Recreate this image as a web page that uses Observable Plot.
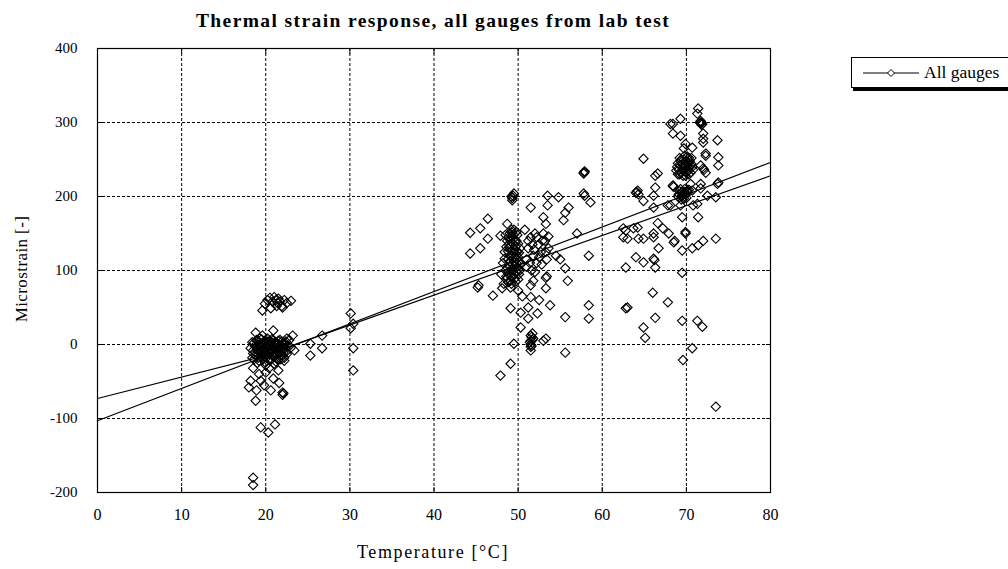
<!DOCTYPE html>
<html><head><meta charset="utf-8">
<script src="https://cdn.jsdelivr.net/npm/d3@7"></script>
<script src="https://cdn.jsdelivr.net/npm/@observablehq/plot@0.6"></script>
<style>
body{margin:0;background:#fff;}
#wrap{position:relative;width:1008px;height:569px;overflow:hidden;font-family:"Liberation Serif",serif;color:#000;}
#chart{position:absolute;left:0;top:0;}
#title{position:absolute;left:33px;width:800px;top:10px;text-align:center;font-weight:bold;font-size:19.5px;letter-spacing:1.4px;}
#ylab{position:absolute;left:-78px;top:259px;width:200px;text-align:center;font-size:17px;letter-spacing:0.4px;transform:rotate(-90deg);}
#xlab{position:absolute;left:233px;width:400px;top:542px;text-align:center;font-size:18px;letter-spacing:1.6px;}
#legend{position:absolute;left:851px;top:57px;width:190px;height:29px;border:1px solid #000;box-shadow:2px 3px 0 #000;background:#fff;font-size:17.5px;display:flex;align-items:center;}
#legend svg{margin-left:11px;margin-right:5px;}
</style></head>
<body>
<div id="wrap">
  <div id="chart"></div>
  <div id="title">Thermal strain response, all gauges from lab test</div>
  <div id="ylab">Microstrain [-]</div>
  <div id="xlab">Temperature [°C]</div>
  <div id="legend"><svg width="56" height="12"><line x1="0" y1="6" x2="56" y2="6" stroke="#000"/><path d="M28,2.5L31.5,6L28,9.5L24.5,6Z" fill="#fff" stroke="#000"/></svg><span>All gauges</span></div>
</div>
<script>
// Axis ticks
const xTicks = [0,10,20,30,40,50,60,70,80];
const yTicks = [-200,-100,0,100,200,300,400];

// Gauge readings [temperature °C, microstrain] around 20 °C
const gauges20 = [
  [19.6,46],[19.9,55],[20.2,60],[20.5,63],[20.6,49],[20.8,58],[21.0,64],[21.2,60],[21.4,56],[21.5,62],
  [21.7,58],[21.9,52],[22.0,50],[22.2,60],[22.5,56],[23.0,59],[21.3,52],
  [18.8,16],[19.6,12],[20.9,19],[23.2,12],[22.5,8],
  [18.2,-5],[18.4,3],[18.5,-12],[18.7,-2],[18.9,6],[19.0,-8],[19.1,-18],[19.2,0],[19.3,8],[19.4,-4],
  [19.5,-12],[19.6,2],[19.7,-20],[19.8,-6],[19.9,5],[20.0,-14],[20.1,-2],[20.2,8],[20.3,-10],[20.4,0],
  [20.5,-22],[20.6,4],[20.7,-6],[20.8,-15],[20.9,6],[21.0,-3],[21.1,-11],[21.2,3],[21.3,-19],[21.4,-6],
  [21.5,5],[21.6,-12],[21.7,-1],[21.8,-8],[21.9,4],[22.0,-15],[22.1,-4],[22.3,2],[22.4,-10],[22.6,-2],
  [19.0,-25],[20.0,-28],[21.0,-26],[18.6,-20],[22.2,-22],[22.8,6],[23.0,-4],[23.4,-8],
  [18.4,-18],[18.5,-8],[18.6,2],[18.8,-14],[18.9,-3],[19.0,4],[19.2,-22],[19.2,-10],[19.3,-1],[19.5,7],
  [19.6,-16],[19.6,-6],[19.8,1],[19.9,-24],[19.9,-11],[20.1,-18],[20.2,-5],[20.3,4],[20.4,-13],[20.5,-1],
  [20.6,-20],[20.7,7],[20.8,-9],[20.9,-2],[21.0,-17],[21.1,3],[21.2,-7],[21.3,-13],[21.4,1],[21.5,-21],
  [21.6,-4],[21.7,6],[21.8,-15],[21.9,-6],[22.0,1],[22.1,-11],[22.2,-18],[22.3,-5],[22.4,4],[22.5,-13],
  [19.4,-17],[20.6,-10],[21.2,-23],[19.1,-5],[20.0,2],[21.8,-20],
  [18.5,-32],[18.2,-49],[19.4,-49],[20.0,-38],[20.9,-46],[20.6,-62],[18.8,-76],[18.0,-58],[22.0,-65],
  [22.0,-68],[22.1,-66],[19.2,-40],[19.8,-55],[20.4,-32],[21.5,-35],[21.6,-52],[18.9,-62],
  [19.4,-112],[20.3,-119],[21.1,-108],[18.5,-180],[18.5,-190],
  [25.3,1],[25.3,-15],[26.7,12],[26.7,-5],[30.1,42],[30.4,28],[30.1,22],[30.4,-5],[30.4,-35]
];
// around 50 °C
const gauges50 = [
  [44.3,151],[45.5,157],[46.4,170],[46.4,143],[44.3,123],[45.5,130],[47.9,147],[48.7,163],[45.2,77],[45.3,80],
  [47.0,66],[48.1,76],[49.1,77],[50.0,73],[51.5,80],[51.5,64],[53.3,76],[51.8,86],[53.3,90],[53.4,92],
  [49.3,195],[49.3,198],[49.4,201],[49.5,204],[49.2,200],[51.5,185],[53.5,201],[53.5,188],[54.8,199],[56.0,185],
  [55.6,178],[55.4,168],[53.0,172],[53.3,163],[57.0,150],[57.8,232],[57.9,234],[57.8,231],[57.9,233],[57.8,204],
  [57.9,201],[58.6,192],[58.4,120],[62.5,145],[55.6,103],[55.9,86],[58.4,53],[58.4,35],[55.6,37],[53.8,53],[63.0,50],
  [48.0,95],[48.2,110],[48.4,125],[48.5,100],[48.6,88],[48.8,115],[48.9,135],[49.0,105],[49.1,92],[49.2,120],
  [49.3,145],[49.3,151],[49.4,100],[49.5,112],[49.6,128],[49.7,85],[49.8,140],[49.9,105],[50.0,118],[50.1,95],
  [50.2,130],[49.0,150],[49.5,155],[48.7,140],[50.3,108],[50.0,88],[48.3,82],[49.2,82],
  [48.5,148],[48.6,92],[48.7,104],[48.8,126],[48.8,84],[48.9,145],[48.9,98],[49.0,112],[49.0,132],[49.1,140],
  [49.1,86],[49.2,101],[49.2,127],[49.3,108],[49.3,137],[49.4,92],[49.4,116],[49.4,148],[49.5,124],[49.5,96],
  [49.6,106],[49.6,140],[49.7,118],[49.7,132],[49.8,98],[49.8,110],[49.9,125],[49.9,148],[50.0,102],[50.0,136],
  [50.1,112],[50.1,124],[49.0,120],[49.6,89],[48.6,132],[48.4,116],[50.2,100],[49.2,155],[49.8,152],
  [51.0,115],[51.2,130],[51.5,145],[51.8,120],[52.0,150],[52.2,110],[52.4,135],[52.7,125],[53.0,150],[53.2,140],
  [53.4,115],[51.6,100],[52.0,98],[53.6,130],[54.5,120],[55.0,115],[50.8,155],[51.0,105],
  [51.2,140],[51.7,135],[52.2,145],[52.5,118],[52.9,140],[53.3,125],[51.4,110],[52.8,108],[53.6,146],[51.9,128],
  [49.1,49],[50.3,43],[51.2,50],[51.2,35],[50.3,23],[52.3,42],[51.5,0],[51.5,5],[51.6,10],[51.7,15],
  [51.4,3],[51.6,-2],[51.5,12],[51.7,6],
  [51.5,-3],[51.8,8],[49.5,1],[51.5,-8],[53.3,8],[53.0,5],[55.6,-11],[49.1,-26],[47.9,-42],[50.5,65],[52.5,60]
];
// around 70 °C
const gauges70 = [
  [71.4,319],[71.3,312],[69.3,305],[68.4,298],[71.7,299],[71.8,300],[71.9,298],[71.6,300],[71.8,297],[71.7,302],
  [68.4,285],[72.0,285],[73.7,276],
  [69.9,271],[70.7,266],[72.0,273],[72.0,278],[69.3,282],[64.9,251],[72.3,258],[73.8,253],[73.8,242],[72.0,238],
  [72.1,236],[66.6,231],[66.3,212],[64.2,208],[64.0,205],[64.3,203],[64.1,206],[66.1,201],[68.4,215],[68.5,213],
  [68.4,214],[70.7,208],
  [71.7,217],[73.8,219],[73.5,199],[64.9,194],[71.3,190],[67.8,188],[69.5,172],[71.4,172],[62.8,154],[63.0,143],
  [64.2,158],[64.9,143],[66.1,150],[67.9,150],[68.5,138],[68.6,140],[69.9,150],[69.9,152],[70.7,130],[71.4,134],
  [72.0,140],[73.5,143],[69.5,127],[66.7,130],[64.0,118],[62.8,104],[64.9,111],[66.1,116],[66.2,114],[66.3,104],
  [69.5,97],[66.0,70],[67.8,57],[62.8,49],[66.3,36],[69.5,32],[71.3,32],[71.9,24],[64.9,23],[65.1,9],
  [70.7,-5],[69.6,-21],[73.5,-84],
  [68.1,298],[69.7,265],[72.3,255],[70.1,242],[71.7,242],[72.3,232],[66.3,228],[66.1,185],[68.1,188],[69.3,188],
  [70.8,188],[62.5,157],[63.7,157],[66.6,164],[67.2,157],[64.3,143],[66.1,145],[72.5,201],[73.7,217],[70.5,217],[71.7,211],
  [68.8,235],[69.0,245],[69.2,230],[69.4,250],[69.6,238],[69.8,255],[70.0,232],[70.2,246],[70.4,240],[70.6,252],
  [70.8,236],[69.3,242],[70.0,248],[69.6,228],[70.3,230],
  [68.9,240],[69.1,236],[69.2,252],[69.4,232],[69.5,244],[69.7,250],[69.8,234],[69.9,242],[70.1,254],[70.2,236],
  [70.4,248],[70.5,232],[70.6,244],[69.0,230],[70.7,240],[69.3,248],[69.9,228],[70.3,252],
  [69.0,200],[69.2,207],[69.4,196],[69.6,204],[69.8,210],[70.0,198],[70.2,205],[69.5,201],[70.3,209],
  [69.1,203],[69.3,210],[69.5,206],[69.7,197],[69.9,203],[70.1,208],[69.4,200],[69.8,206]
];

// Trend lines
const fitATemps = [0, 19, 80];
const fitAValues = [-73, -18, 228];
const fitBTemps = [0, 80];
const fitBValues = [-103, 246];

const gauges = [...gauges20, ...gauges50, ...gauges70].map(([t, s]) => ({t, s}));
const fitA = fitATemps.map((t, i) => ({t, s: fitAValues[i]}));
const fitB = fitBTemps.map((t, i) => ({t, s: fitBValues[i]}));

const blank = () => "";
const chart = Plot.plot({
  width: 1008, height: 569,
  marginLeft: 97, marginRight: 238, marginTop: 48, marginBottom: 77,
  style: {fontFamily: "Liberation Serif, serif", fontSize: "15px", background: "transparent", color: "#000"},
  x: {domain: [0, 80]},
  y: {domain: [-200, 400]},
  marks: [
    Plot.gridX(xTicks, {stroke: "#000", strokeOpacity: 1, strokeDasharray: "3,2"}),
    Plot.gridY(yTicks, {stroke: "#000", strokeOpacity: 1, strokeDasharray: "3,2"}),
    Plot.line(fitA, {x: "t", y: "s", stroke: "#000", strokeWidth: 1.2}),
    Plot.line(fitB, {x: "t", y: "s", stroke: "#000", strokeWidth: 1.2}),
    Plot.dot(gauges, {x: "t", y: "s", symbol: "diamond2", r: 4.2, stroke: "#000", fill: "none", strokeWidth: 1.1}),
    Plot.frame({stroke: "#000", strokeWidth: 1.2}),
    // inward tick marks on all four sides
    Plot.axisX(xTicks, {anchor: "bottom", tickSize: 5, dy: -5, tickFormat: blank, label: null, strokeOpacity: 1}),
    Plot.axisX(xTicks, {anchor: "top", tickSize: 5, dy: 5, tickFormat: blank, label: null, strokeOpacity: 1}),
    Plot.axisY(yTicks, {anchor: "left", tickSize: 5, dx: 5, tickFormat: blank, label: null, strokeOpacity: 1}),
    Plot.axisY(yTicks, {anchor: "right", tickSize: 5, dx: -5, tickFormat: blank, label: null, strokeOpacity: 1}),
    Plot.axisX(xTicks, {anchor: "bottom", tickSize: 0, tickPadding: 16, label: null, tickFormat: d => String(d), fontSize: 16}),
    Plot.axisY(yTicks, {anchor: "left", tickSize: 0, tickPadding: 20, label: null, tickFormat: d => String(d), fontSize: 15})
  ]
});
document.getElementById("chart").appendChild(chart);
</script>
</body></html>
